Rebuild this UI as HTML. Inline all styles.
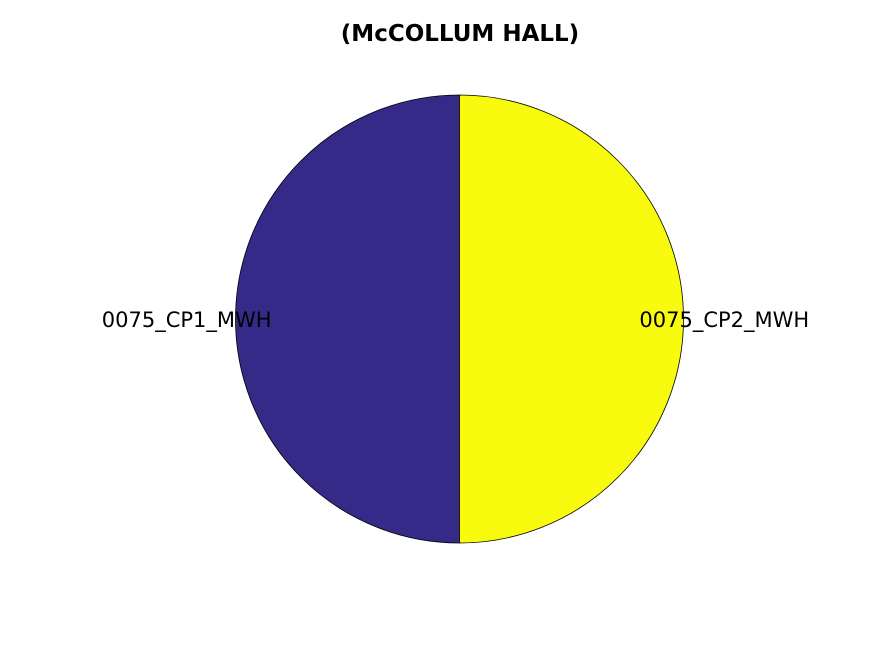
<!DOCTYPE html>
<html><head><meta charset="utf-8"><style>
html,body{margin:0;padding:0;background:#fff;}
svg{display:block;}
</style></head><body>
<svg id="chart" width="887" height="661" viewBox="0 0 887 661">
<rect width="887" height="661" fill="#fff"/>
<text x="460" y="41" text-anchor="middle" font-family="DejaVu Sans, Liberation Sans, sans-serif" font-size="23" font-weight="bold">(McCOLLUM HALL)</text>
<g id="slices"></g>
<g id="labels"></g>
</svg>
<script>
const categories = ["0075_CP1_MWH", "0075_CP2_MWH"];
const values = [50, 50];
const colors = ["#352a87", "#f9fb0e"];
const cx = 459.5, cy = 319, r = 224;
const ns = "http://www.w3.org/2000/svg";
const total = values.reduce((a,b)=>a+b,0);
let ang = Math.PI/2;
const gS = document.getElementById('slices');
const gL = document.getElementById('labels');
values.forEach((v,i)=>{
  const sweep = v/total*2*Math.PI;
  const a0 = ang, a1 = ang + sweep;
  const x0 = cx + r*Math.cos(a0), y0 = cy - r*Math.sin(a0);
  const x1 = cx + r*Math.cos(a1), y1 = cy - r*Math.sin(a1);
  const large = sweep > Math.PI ? 1 : 0;
  const p = document.createElementNS(ns,'path');
  let d;
  if (v/total >= 0.9999) d = `M${cx-r},${cy}A${r},${r} 0 1 0 ${cx+r},${cy}A${r},${r} 0 1 0 ${cx-r},${cy}Z`;
  else d = `M${cx},${cy}L${x0},${y0}A${r},${r} 0 ${large} 0 ${x1},${y1}Z`;
  p.setAttribute('d', d);
  p.setAttribute('fill', colors[i % colors.length]);
  p.setAttribute('stroke', '#000');
  p.setAttribute('stroke-width', '0.8');
  
  
  gS.appendChild(p);
  const mid = (a0+a1)/2;
  const lr = r*1.2;
  const lx = cx + lr*Math.cos(mid) - 4, ly = cy - lr*Math.sin(mid);
  const t = document.createElementNS(ns,'text');
  t.setAttribute('x', lx);
  t.setAttribute('y', ly + 8);
  t.setAttribute('text-anchor', 'middle');
  t.setAttribute('font-family', 'DejaVu Sans, Liberation Sans, sans-serif');
  t.setAttribute('font-size', '21');
  t.textContent = categories[i];
  
  
  gL.appendChild(t);
  ang = a1;
});
</script>
</body></html>
